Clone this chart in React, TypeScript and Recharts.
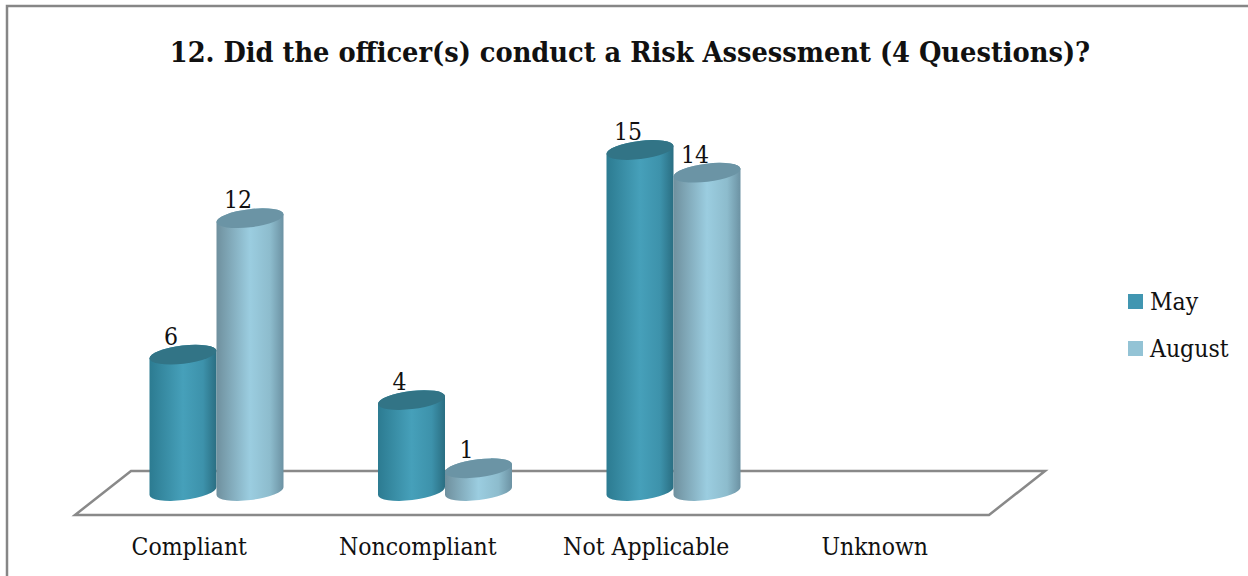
import { BarChart, Bar, XAxis, YAxis, Legend, LabelList, usePlotArea } from "recharts";

const categories = ["Compliant", "Noncompliant", "Not Applicable", "Unknown"];
const mayValues = [6, 4, 15, null];
const augustValues = [12, 1, 14, null];

const rows = categories.map((name, i) => ({ name, May: mayValues[i], August: augustValues[i] }));

const FONT = "'DejaVu Serif Condensed', 'DejaVu Serif', serif";
const TEXT = "#111";

// how far the cylinders sit back from the front edge of the floor
const DEPTH_X = 27.5;
const DEPTH_Y = -24;
const TILT = 4;
const RY = 9;

function Cylinder(props: any) {
  const { x, y, width, height, gradient, top } = props;
  if (!height || height <= 0) return null;
  const left = x + DEPTH_X;
  const right = left + width;
  const yTop = y + DEPTH_Y;
  const yBottom = y + height + DEPTH_Y;
  const rx = width / 2;
  const arc = `A ${rx} ${RY} -7 0`;
  return (
    <g>
      <path
        d={`M ${left} ${yTop + TILT} L ${left} ${yBottom + TILT} ${arc} 0 ${right} ${yBottom - TILT} L ${right} ${yTop - TILT} ${arc} 0 ${left} ${yTop + TILT} Z`}
        fill={`url(#${gradient})`}
      />
      <path d={`M ${left} ${yTop + TILT} ${arc} 1 ${right} ${yTop - TILT} ${arc} 1 ${left} ${yTop + TILT} Z`} fill={top} />
    </g>
  );
}

function ValueLabel(props: any) {
  const { x, y, width, value } = props;
  if (value == null) return null;
  return (
    <text x={x + width / 2 + DEPTH_X - 12} y={y + DEPTH_Y - 10} textAnchor="middle" fontFamily={FONT} fontSize={24.5} fill={TEXT}>
      {value}
    </text>
  );
}

function Floor() {
  const plot = usePlotArea();
  if (!plot) return null;
  const { x, y, width, height } = plot;
  const front = y + height;
  const back = front - 44;
  return (
    <polygon
      points={`${x},${front} ${x + width},${front} ${x + width + 56},${back} ${x + 56},${back}`}
      fill="#fff"
      stroke="#898989"
      strokeWidth={2.5}
    />
  );
}

function LegendBox({ payload }: any) {
  return (
    <div style={{ fontFamily: FONT, fontSize: 24.5, color: TEXT }}>
      {(payload ?? []).map((item: any) => (
        <div key={item.value} style={{ display: "flex", alignItems: "center", height: 47 }}>
          <span style={{ width: 15, height: 15, background: item.color, marginRight: 7 }} />
          {item.value}
        </div>
      ))}
    </div>
  );
}

export default function App() {
  return (
    <div style={{ position: "absolute", left: 0, top: 0, width: 1248, height: 576, background: "#fff" }}>
      <BarChart
        width={1248}
        height={576}
        data={rows}
        margin={{ top: 174, right: 144, bottom: 31, left: 75 }}
        barSize={67}
        barGap={0}
      >
        <defs>
          <linearGradient id="mayBody" x1="0" y1="0" x2="1" y2="0">
            <stop offset="0" stopColor="#2c7b91" />
            <stop offset="0.5" stopColor="#46a0ba" />
            <stop offset="0.8" stopColor="#3d92ab" />
            <stop offset="1" stopColor="#2a6e82" />
          </linearGradient>
          <linearGradient id="augustBody" x1="0" y1="0" x2="1" y2="0">
            <stop offset="0" stopColor="#6f909e" />
            <stop offset="0.5" stopColor="#9bcde0" />
            <stop offset="0.8" stopColor="#8dbccd" />
            <stop offset="1" stopColor="#6c92a3" />
          </linearGradient>
        </defs>
        <rect x={7} y={6} width={1250} height={580} fill="#fff" stroke="#868686" strokeWidth={2.5} />
        <text x={630} y={62} textAnchor="middle" fontFamily={FONT} fontWeight={700} fontSize={28.6} fill={TEXT}>
          12. Did the officer(s) conduct a Risk Assessment (4 Questions)?
        </text>
        <Floor />
        <XAxis
          dataKey="name"
          axisLine={false}
          tickLine={false}
          tickMargin={17}
          tick={{ fontFamily: FONT, fontSize: 24.5, fill: TEXT }}
        />
        <YAxis hide domain={[0, 15]} />
        <Legend
          layout="vertical"
          align="right"
          verticalAlign="top"
          itemSorter={null}
          wrapperStyle={{ left: 1128, top: 278, width: 115 }}
          content={<LegendBox />}
        />
        <Bar dataKey="May" fill="#4196b1" isAnimationActive={false} shape={<Cylinder gradient="mayBody" top="#327486" />}>
          <LabelList dataKey="May" content={<ValueLabel />} />
        </Bar>
        <Bar dataKey="August" fill="#93c3d5" isAnimationActive={false} shape={<Cylinder gradient="augustBody" top="#6b94a5" />}>
          <LabelList dataKey="August" content={<ValueLabel />} />
        </Bar>
      </BarChart>
    </div>
  );
}
